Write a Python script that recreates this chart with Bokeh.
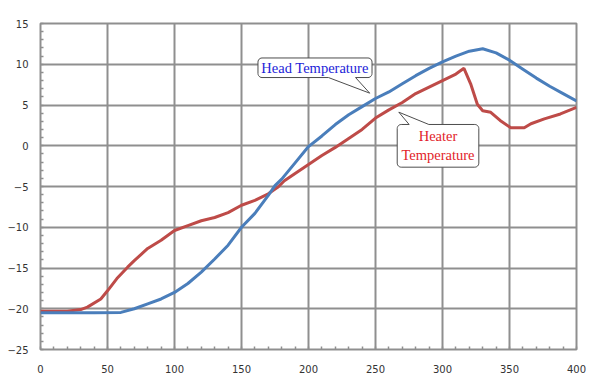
from bokeh.plotting import figure
from bokeh.models import SingleIntervalTicker, Range1d
from bokeh.core.properties import value
from bokeh.embed import file_html
from bokeh.resources import INLINE

# ---- data ----
head_x = [0, 20, 40, 60, 70, 80, 90, 100, 110, 120, 130, 140, 150, 160, 170, 175,
          180, 190, 200, 210, 220, 230, 240, 250, 260, 270, 280, 290, 300, 310,
          320, 330, 340, 350, 360, 370, 380, 390, 400]
head_y = [-20.5, -20.5, -20.5, -20.45, -20.0, -19.4, -18.8, -18.0, -16.9, -15.5,
          -13.9, -12.2, -10.0, -8.3, -6.1, -4.9, -4.1, -2.1, -0.1, 1.2, 2.6, 3.8,
          4.8, 5.8, 6.6, 7.6, 8.6, 9.5, 10.3, 11.0, 11.6, 11.9, 11.4, 10.5, 9.4,
          8.3, 7.3, 6.4, 5.5]

heater_x = [0, 20, 30, 35, 45, 50, 57, 65, 70, 80, 90, 100, 110, 120, 130, 140,
            150, 160, 170, 177, 182, 190, 200, 210, 220, 230, 240, 250, 260, 270,
            280, 290, 300, 310, 316, 321, 326, 330, 336, 343, 351, 357, 361, 366,
            376, 388, 400]
heater_y = [-20.3, -20.3, -20.1, -19.8, -18.8, -17.8, -16.3, -14.9, -14.1, -12.6,
            -11.6, -10.4, -9.8, -9.2, -8.8, -8.2, -7.3, -6.7, -5.9, -5.1, -4.3,
            -3.4, -2.3, -1.2, -0.2, 0.9, 2.0, 3.4, 4.4, 5.3, 6.4, 7.2, 8.0, 8.8,
            9.5, 7.6, 5.1, 4.3, 4.1, 3.1, 2.2, 2.2, 2.2, 2.7, 3.3, 3.9, 4.7]

x_ticks = [0, 50, 100, 150, 200, 250, 300, 350, 400]
y_ticks = [-25, -20, -15, -10, -5, 0, 5, 10, 15]

# callout annotations (data coordinates)
head_label = ["Head Temperature"]
head_box = (162.3, 247.4, 8.37, 10.77)          # x0, x1, y0, y1
head_ptr = (214.9, 235.1, 245.7, 6.45, "bottom")  # base0, base1, tipx, tipy, edge
heater_label = ["Heater", "Temperature"]
heater_box = (266.2, 327.1, -2.63, 2.61)
heater_ptr = (275.1, 289.8, 267.4, 4.12, "top")

BLUE = "#4a7ebb"
RED = "#be4b48"
GRID = "#8f8f8f"

p = figure(frame_width=536, frame_height=326, output_backend="svg",
           toolbar_location=None,
           x_range=Range1d(x_ticks[0], x_ticks[-1]),
           y_range=Range1d(y_ticks[0], y_ticks[-1]),
           min_border_left=40, min_border_right=13,
           min_border_top=23, min_border_bottom=30)
p.background_fill_color = "white"
p.border_fill_color = "white"
p.outline_line_color = GRID
p.outline_line_width = 2

p.xaxis.ticker = SingleIntervalTicker(interval=50, num_minor_ticks=5)
p.yaxis.ticker = SingleIntervalTicker(interval=5, num_minor_ticks=5)
for ax in (p.xaxis, p.yaxis):
    ax.axis_line_color = None
    ax.major_tick_in = 0
    ax.major_tick_out = 0
    ax.minor_tick_in = 3
    ax.minor_tick_out = 0
    ax.minor_tick_line_color = GRID
    ax.minor_tick_line_width = 1.5
    ax.major_label_text_font = "DejaVu Sans"
    ax.major_label_text_font_size = "10px"
    ax.major_label_text_color = "#333333"
p.yaxis.major_label_standoff = 12
p.xaxis.major_label_standoff = 15

p.xgrid.ticker = p.xaxis.ticker
p.ygrid.ticker = p.yaxis.ticker
for g in (p.xgrid, p.ygrid):
    g.grid_line_color = GRID
    g.grid_line_width = 2

p.line(heater_x, heater_y, line_color=RED, line_width=3)
p.line(head_x, head_y, line_color=BLUE, line_width=3)


def callout(box, ptr, rx=3.0, ry=0.5, n=6):
    import math
    x0, x1, y0, y1 = box
    b0, b1, tx, ty, edge = ptr
    xs, ys = [], []

    def arc(cx, cy, a0, a1):
        for i in range(n + 1):
            a = math.radians(a0 + (a1 - a0) * i / n)
            xs.append(cx + rx * math.cos(a))
            ys.append(cy + ry * math.sin(a))

    arc(x0 + rx, y1 - ry, 180, 90)
    if edge == "top":
        xs.extend([b0, tx, b1]); ys.extend([y1, ty, y1])
    arc(x1 - rx, y1 - ry, 90, 0)
    arc(x1 - rx, y0 + ry, 0, -90)
    if edge == "bottom":
        xs.extend([b1, tx, b0]); ys.extend([y0, ty, y0])
    arc(x0 + rx, y0 + ry, -90, -180)
    p.patch(xs, ys, fill_color="white", line_color="#4d4d4d", line_width=1)


callout(head_box, head_ptr)
callout(heater_box, heater_ptr)

hb = head_box
p.text(x=[(hb[0] + hb[1]) / 2], y=[(hb[2] + hb[3]) / 2], text=head_label,
       text_font=value("Liberation Serif"), text_font_size="14.5px",
       text_color="#2323d8", text_align="center", text_baseline="middle")
rb = heater_box
cx = (rb[0] + rb[1]) / 2
h = rb[3] - rb[2]
p.text(x=[cx, cx], y=[rb[3] - h * 0.27, rb[2] + h * 0.29], text=heater_label,
       text_font=value("Liberation Serif"), text_font_size="14.5px",
       text_color="#e2232a", text_align="center", text_baseline="middle")

open("out.html", "w").write(file_html(p, INLINE))
